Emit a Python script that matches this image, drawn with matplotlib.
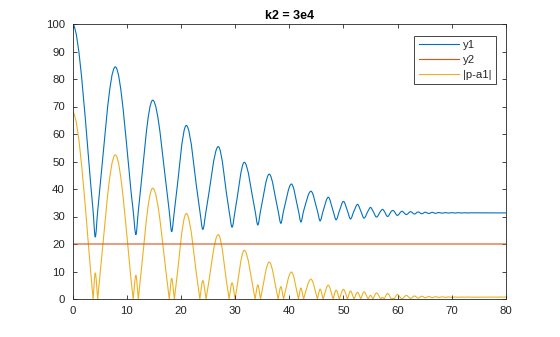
import numpy as np
import matplotlib
matplotlib.use("Agg")
import matplotlib.pyplot as plt
from matplotlib.path import Path
from matplotlib.patches import PathPatch
from matplotlib.lines import Line2D

# ---------------- data ----------------
title = "k2 = 3e4"
labels = ["y1", "y2", "|p-a1|"]
x_ticks = [0, 10, 20, 30, 40, 50, 60, 70, 80]
y_ticks = [0, 10, 20, 30, 40, 50, 60, 70, 80, 90, 100]

# local maxima of y1
peak_t = [0, 7.9, 14.8, 21.0, 26.9, 31.7, 36.3, 40.4, 44.0, 47.2, 50.0, 52.6,
          55.0, 57.2, 59.1, 60.8, 62.4, 63.8, 65.1, 66.4, 67.6, 68.8, 70.0,
          71.2, 72.4, 73.6]
peak_y = [100, 84.4, 72.3, 63.1, 55.4, 49.7, 45.4, 41.8, 39.2, 37.0, 35.5, 34.4,
          33.3, 32.6, 32.2, 31.9, 31.75, 31.65, 31.55, 31.5, 31.45, 31.42, 31.4,
          31.38, 31.36, 31.34]
# local minima of y1
trough_t = [4.2, 11.7, 18.3, 24.05, 29.45, 34.2, 38.45, 42.15, 45.7, 48.65,
            51.3, 53.8, 56.1, 58.15, 59.95, 61.6, 63.1, 64.45, 65.75, 67.0,
            68.2, 69.4, 70.6, 71.8, 73.0]
trough_y = [22.5, 23.4, 24.5, 25.3, 26.1, 26.9, 27.5, 28.0, 28.4, 28.8,
            29.1, 29.4, 29.8, 30.0, 30.4, 30.7, 30.9, 31.0, 31.1, 31.15,
            31.2, 31.24, 31.26, 31.28, 31.29]
# times where y1 crosses a1 (zeros of |p-a1|)
cross_t = [3.8, 4.65, 11.2, 12.15, 17.85, 18.8, 23.5, 24.65, 28.9, 30.0,
           33.7, 34.7, 37.95, 38.95, 41.7, 42.65, 45.2, 46.25, 48.1, 49.25,
           50.75, 51.95, 53.2, 54.55, 55.45, 56.9, 57.5, 58.9, 59.3]
a1 = 32.0
end_t = [80]
end_y = [31.3]

y2_t = [0, 80]
y2_y = [20, 20]

# ---------------- styling ----------------
C_Y1 = "#0072BD"
C_Y2 = "#D95319"
C_Y3 = "#EDB120"
TXT = "#262626"
plt.rcParams["font.family"] = ["Liberation Sans", "DejaVu Sans"]

fig = plt.figure(figsize=(5.6, 3.37), dpi=100)
ax = fig.add_axes([72.5 / 560, 1 - 299 / 337, (506 - 72.5) / 560, (299 - 24) / 337])

# ---------------- build knots ----------------
knots = [(t, y, 0) for t, y in zip(peak_t, peak_y)]
knots += [(t, y, 0) for t, y in zip(trough_t, trough_y)]
knots += [(t, a1, 1) for t in cross_t]
knots += [(t, y, 0) for t, y in zip(end_t, end_y)]
knots.sort(key=lambda k: k[0])
kt = np.array([k[0] for k in knots], float)
ky = np.array([k[1] for k in knots], float)
kc = np.array([k[2] for k in knots], int)

h = np.diff(kt)
d = np.diff(ky) / h
m = np.zeros_like(kt)
for i in range(1, len(kt) - 1):
    if kc[i] == 1 and d[i - 1] * d[i] > 0:
        w1 = 2 * h[i] + h[i - 1]
        w2 = h[i] + 2 * h[i - 1]
        m[i] = (w1 + w2) / (w1 / d[i - 1] + w2 / d[i])


def bezier_path(pts_t, pts_y, slopes_a, slopes_b):
    verts = [(pts_t[0], pts_y[0][0])]
    codes = [Path.MOVETO]
    for i in range(len(pts_t) - 1):
        t0, t1 = pts_t[i], pts_t[i + 1]
        y0, y1 = pts_y[i][0], pts_y[i][1]
        hh = t1 - t0
        verts += [(t0 + hh / 3, y0 + slopes_a[i] * hh / 3),
                  (t1 - hh / 3, y1 - slopes_b[i] * hh / 3),
                  (t1, y1)]
        codes += [Path.CURVE4] * 3
    return Path(verts, codes)


seg_y = [(ky[i], ky[i + 1]) for i in range(len(kt) - 1)]
sa = [m[i] for i in range(len(kt) - 1)]
sb = [m[i + 1] for i in range(len(kt) - 1)]
p1 = bezier_path(kt, seg_y, sa, sb)

seg_y3, sa3, sb3 = [], [], []
for i in range(len(kt) - 1):
    s = np.sign((ky[i] + ky[i + 1]) / 2 - a1)
    seg_y3.append((abs(ky[i] - a1), abs(ky[i + 1] - a1)))
    sa3.append(s * m[i])
    sb3.append(s * m[i + 1])
p3 = bezier_path(kt, seg_y3, sa3, sb3)

LW = 0.8
ax.add_patch(PathPatch(p1, fill=False, edgecolor=C_Y1, lw=LW))
ax.plot(y2_t, y2_y, color=C_Y2, lw=LW, snap=False)
ax.add_patch(PathPatch(p3, fill=False, edgecolor=C_Y3, lw=LW))

ax.set_xlim(x_ticks[0], x_ticks[-1])
ax.set_ylim(y_ticks[0], y_ticks[-1])
ax.set_xticks(x_ticks)
ax.set_yticks(y_ticks)
ax.tick_params(direction="in", length=3, width=0.6, colors=TXT, labelsize=8.2,
               top=True, right=True)
ax.tick_params(axis="x", pad=5)
ax.tick_params(axis="y", pad=5.5)
for sp in ax.spines.values():
    sp.set_color(TXT)
    sp.set_linewidth(0.6)

ax.set_title(title, fontsize=9, fontweight="bold", color="black", pad=3.5)

handles = [Line2D([], [], color=C_Y1, lw=LW),
           Line2D([], [], color=C_Y2, lw=LW),
           Line2D([], [], color=C_Y3, lw=LW)]
leg = ax.legend(handles, labels, loc="upper right",
                bbox_to_anchor=((495.7 - 72.5) / 433.5, (299 - 35.7) / 275),
                borderaxespad=0, fontsize=8.2, handlelength=3.5,
                handletextpad=0.35, labelspacing=0.42, borderpad=0.4,
                fancybox=False, framealpha=1, edgecolor=TXT)
leg.get_frame().set_linewidth(0.6)
for t in leg.get_texts():
    t.set_color(TXT)

fig.savefig("out.png", dpi=100)
